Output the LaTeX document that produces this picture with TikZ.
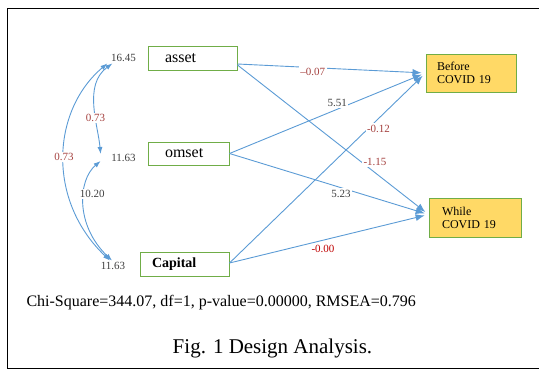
\documentclass[tikz,border=0pt]{standalone}
\usepackage{fontspec}
\setmainfont{Liberation Serif}
\usetikzlibrary{arrows.meta}
\definecolor{pathblue}{HTML}{5B9BD5}
\definecolor{boxgreen}{HTML}{70AD47}
\definecolor{boxyellow}{HTML}{FFD966}
\definecolor{coefred}{HTML}{A5413F}
\definecolor{zerored}{HTML}{C00000}
\definecolor{numgray}{HTML}{404040}
\begin{document}
\begin{tikzpicture}[x=1pt, y=-1pt,
  varbox/.style={draw=boxgreen, line width=1pt, minimum height=24pt, align=left, font=\rmfamily\fontsize{16}{18}\selectfont},
  outbox/.style={draw=boxgreen, line width=1pt, fill=boxyellow, minimum height=38pt, align=left, font=\rmfamily\fontsize{12}{13}\selectfont},
  num/.style={text=numgray, fill=white, inner sep=1.5pt, font=\rmfamily\fontsize{11}{12}\selectfont},
  coef/.style={num, text=coefred},
  effect/.style={draw=pathblue, line width=0.9pt, -{Latex[length=9pt,width=7pt]}, shorten >=4pt},
  cov/.style={draw=pathblue, line width=0.9pt, {Latex[length=7pt,width=5pt]}-{Latex[length=7pt,width=5pt]}}
]
\useasboundingbox (0,0) rectangle (539,370);
\draw[line width=1.6pt] (545,8.5) -- (7.5,8.5) -- (7.5,368.5) -- (545,368.5);

\node[varbox, inner xsep=17pt, text width=55pt] (asset) at (192.5,58) {asset};
\node[varbox, inner xsep=17pt, text width=47pt, minimum height=23pt] (omset) at (188.5,153.5) {omset};
\node[varbox, inner xsep=12pt, text width=65pt, font=\rmfamily\fontsize{14}{16}\selectfont\bfseries] (capital) at (184.5,264) {Capital};
\node[outbox, inner xsep=11pt, text width=68pt] (before) at (471,73) {Before\\COVID 19};
\node[outbox, inner xsep=13pt, text width=66pt, minimum height=39pt] (while) at (475,217.5) {While\\COVID 19};

\node[num, fill=none] (v1) at (123.5,58) {16.45};
\node[num, fill=none] (v2) at (123.5,158) {11.63};
\node[num, fill=none] (v3) at (113,266) {11.63};

\draw[effect] ([yshift=-6pt]asset.east) -- (before.west) node[coef, pos=0.4, yshift=-4pt] {--0.07};
\draw[effect] ([yshift=-7pt]asset.east) -- ([yshift=3pt]while.west) node[coef, pos=0.72, yshift=11pt] {-1.15};
\draw[effect] (omset.east) -- (before.west) node[num, pos=0.55, yshift=6pt] {5.51};
\draw[effect] (omset.east) -- ([yshift=3pt]while.west) node[num, pos=0.56, yshift=-6pt] {5.23};
\draw[effect] ([yshift=1pt]capital.east) -- (before.west) node[coef, pos=0.76, yshift=-10pt] {-0.12};
\draw[effect] ([yshift=1pt]capital.east) -- ([yshift=3pt]while.west) node[num, text=zerored, pos=0.47, yshift=-9pt] {-0.00};

\draw[cov] ([xshift=-2pt]v1.south west) .. controls (52,110) and (46,200) .. ([xshift=-3pt]v3.north) node[coef, pos=0.5] {0.73};
\draw[cov] ([xshift=3pt]v1.south west) .. controls (83,85) and (98,125) .. ([xshift=-9pt,yshift=4pt]v2.west) node[coef, pos=0.62] {0.73};
\draw[cov] ([xshift=-9pt,yshift=-3pt]v2.west) .. controls (78,180) and (75,225) .. ([xshift=-1pt]v3.north) node[num, pos=0.4, xshift=8pt] {10.20};

\node[font=\fontsize{16}{18}\selectfont, anchor=west] (fit) at (23,303) {Chi-Square=344.07, df=1, p-value=0.00000, RMSEA=0.796};
\node[font=\fontsize{21}{24}\selectfont] (caption) at (272.5,348) {Fig. 1 Design Analysis.};
\end{tikzpicture}
\end{document}
